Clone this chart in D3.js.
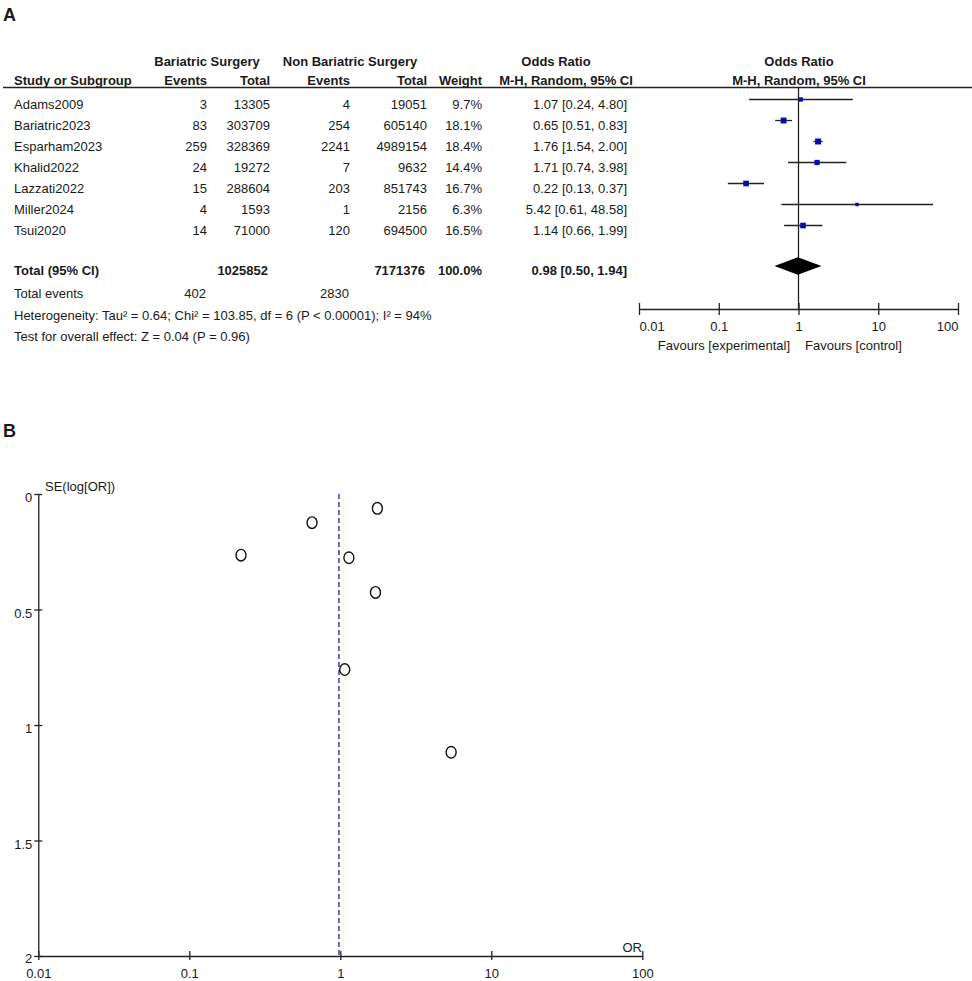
<!DOCTYPE html>
<html>
<head>
<meta charset="utf-8">
<script src="https://cdn.jsdelivr.net/npm/d3@7"></script>
<style>
  body { margin: 0; background: #fff; }
  svg text { font-family: "Liberation Sans", Arial, sans-serif; fill: #1a1a1a; }
</style>
</head>
<body>
<div id="chart"></div>
<script>
// study level data
var studies = ["Adams2009", "Bariatric2023", "Esparham2023", "Khalid2022", "Lazzati2022", "Miller2024", "Tsui2020"];
var events1 = [3, 83, 259, 24, 15, 4, 14];
var total1 = [13305, 303709, 328369, 19272, 288604, 1593, 71000];
var events2 = [4, 254, 2241, 7, 203, 1, 120];
var total2 = [19051, 605140, 4989154, 9632, 851743, 2156, 694500];
var weights = [9.7, 18.1, 18.4, 14.4, 16.7, 6.3, 16.5];
var oddsRatio = [1.07, 0.65, 1.76, 1.71, 0.22, 5.42, 1.14];
var ciLow = [0.24, 0.51, 1.54, 0.74, 0.13, 0.61, 0.66];
var ciHigh = [4.80, 0.83, 2.00, 3.98, 0.37, 48.58, 1.99];
// funnel plot y values (SE of log OR)
var seLogOR = [0.76, 0.124, 0.062, 0.426, 0.265, 1.118, 0.276];

var pooled = {or: 0.98, lo: 0.50, hi: 1.94};
var totals = {t1: 1025852, t2: 7171376, e1: 402, e2: 2830};
var orTicks = [0.01, 0.1, 1, 10, 100];
var seTicks = [0, 0.5, 1, 1.5, 2];

var svg = d3.select("#chart").append("svg")
  .attr("width", 972)
  .attr("height", 981);

function txt(x, y, s, anchor, bold, size) {
  return svg.append("text")
    .attr("x", x).attr("y", y)
    .attr("text-anchor", anchor || "start")
    .style("font-size", (size || 13) + "px")
    .style("font-weight", bold ? "bold" : "normal")
    .text(s);
}

/* ---------- panel A : forest plot ---------- */
txt(3, 21, "A", "start", true, 18);

txt(207, 66, "Bariatric Surgery", "middle", true);
txt(350, 66, "Non Bariatric Surgery", "middle", true);
txt(556, 66, "Odds Ratio", "middle", true);
txt(799, 66, "Odds Ratio", "middle", true);

txt(14, 85, "Study or Subgroup", "start", true);
txt(207, 85, "Events", "end", true);
txt(270, 85, "Total", "end", true);
txt(350, 85, "Events", "end", true);
txt(427, 85, "Total", "end", true);
txt(482, 85, "Weight", "end", true);
txt(566, 85, "M-H, Random, 95% CI", "middle", true);
txt(799, 85, "M-H, Random, 95% CI", "middle", true);

svg.append("line")
  .attr("x1", 3).attr("x2", 972).attr("y1", 87.5).attr("y2", 87.5)
  .attr("stroke", "#222").attr("stroke-width", 1.3);

var rowY = d3.scaleLinear().domain([0, 6]).range([108.5, 234.5]);
var fx = d3.scaleLog().domain([0.01, 100]).range([639, 958]);
var boxSize = d3.scaleSqrt().domain([0, 20]).range([0, 6.2]);

studies.forEach(function(s, i) {
  var y = rowY(i);
  txt(14, y, s);
  txt(207, y, events1[i], "end");
  txt(270, y, total1[i], "end");
  txt(350, y, events2[i], "end");
  txt(427, y, total2[i], "end");
  txt(482, y, weights[i].toFixed(1) + "%", "end");
  txt(627, y, oddsRatio[i].toFixed(2) + " [" + ciLow[i].toFixed(2) + ", " + ciHigh[i].toFixed(2) + "]", "end");
});

var forest = svg.append("g");

forest.append("line")
  .attr("x1", fx(1)).attr("x2", fx(1))
  .attr("y1", 87.5).attr("y2", 309)
  .attr("stroke", "#222").attr("stroke-width", 1.3);

forest.selectAll(".ci")
  .data(studies)
  .enter().append("line")
  .attr("class", "ci")
  .attr("x1", (d, i) => fx(ciLow[i]))
  .attr("x2", (d, i) => fx(ciHigh[i]))
  .attr("y1", (d, i) => rowY(i) - 9)
  .attr("y2", (d, i) => rowY(i) - 9)
  .attr("stroke", "#222").attr("stroke-width", 1.3);

forest.selectAll(".box")
  .data(studies)
  .enter().append("rect")
  .attr("class", "box")
  .attr("x", (d, i) => fx(oddsRatio[i]) - boxSize(weights[i]) / 2)
  .attr("y", (d, i) => rowY(i) - 9 - boxSize(weights[i]) / 2)
  .attr("width", (d, i) => boxSize(weights[i]))
  .attr("height", (d, i) => boxSize(weights[i]))
  .attr("fill", "#0c0caa");

// total row
var totY = 275;
txt(14, totY, "Total (95% CI)", "start", true);
txt(268, totY, totals.t1, "end", true);
txt(425, totY, totals.t2, "end", true);
txt(482, totY, "100.0%", "end", true);
txt(627, totY, pooled.or.toFixed(2) + " [" + pooled.lo.toFixed(2) + ", " + pooled.hi.toFixed(2) + "]", "end", true);

var dy = totY - 9;
forest.append("path")
  .attr("d", "M" + fx(pooled.lo) + "," + dy +
             "L" + fx(pooled.or) + "," + (dy - 8.7) +
             "L" + fx(pooled.hi) + "," + dy +
             "L" + fx(pooled.or) + "," + (dy + 8.7) + "Z")
  .attr("fill", "#000");

txt(14, 298, "Total events");
txt(206, 298, totals.e1, "end");
txt(349, 298, totals.e2, "end");
txt(14, 319.5, "Heterogeneity: Tau\u00b2 = 0.64; Chi\u00b2 = 103.85, df = 6 (P < 0.00001); I\u00b2 = 94%");
txt(14, 340.5, "Test for overall effect: Z = 0.04 (P = 0.96)");

// forest axis
var fAxis = forest.append("g")
  .attr("transform", "translate(0,309)")
  .call(d3.axisBottom(fx).tickValues(orTicks).tickFormat(d3.format("~g")).tickSizeOuter(0));
fAxis.select(".domain").attr("stroke", "#222").attr("stroke-width", 1.3);
fAxis.selectAll(".tick line").attr("y1", -6).attr("y2", 6).attr("stroke", "#222").attr("stroke-width", 1.3);
fAxis.selectAll(".tick text")
  .attr("y", 22).attr("dy", 0)
  .style("font-size", "13px")
  .style("font-family", '"Liberation Sans", Arial, sans-serif')
  .attr("fill", "#1a1a1a")
  .attr("text-anchor", d => d === 0.01 ? "start" : d === 100 ? "end" : "middle");

txt(790, 349.5, "Favours [experimental]", "end");
txt(805, 349.5, "Favours [control]", "start");

/* ---------- panel B : funnel plot ---------- */
txt(3, 437, "B", "start", true, 18);

var gx = d3.scaleLog().domain([0.01, 100]).range([38.3, 642.3]);
var gy = d3.scaleLinear().domain([0, 2]).range([494, 956]);
var funnel = svg.append("g");

var yAx = funnel.append("g")
  .attr("transform", "translate(38.3,0)")
  .call(d3.axisLeft(gy).tickValues(seTicks).tickFormat(d3.format("~g")).tickSizeOuter(0));
yAx.select(".domain").attr("stroke", "#222").attr("stroke-width", 1.3);
yAx.selectAll(".tick line").attr("x1", -4).attr("x2", 4).attr("stroke", "#222").attr("stroke-width", 1.3);
yAx.selectAll(".tick text")
  .attr("x", -6).attr("dy", d => d === 2 ? "0.5em" : "0.58em")
  .style("font-size", "13px")
  .style("font-family", '"Liberation Sans", Arial, sans-serif')
  .attr("fill", "#1a1a1a");

var xAx = funnel.append("g")
  .attr("transform", "translate(0,956)")
  .call(d3.axisBottom(gx).tickValues(orTicks).tickFormat(d3.format("~g")).tickSizeOuter(0));
xAx.select(".domain").attr("stroke", "#222").attr("stroke-width", 1.3);
xAx.selectAll(".tick line").attr("y1", -5).attr("y2", 4).attr("stroke", "#222").attr("stroke-width", 1.3);
xAx.selectAll(".tick text")
  .attr("y", 22).attr("dy", 0)
  .style("font-size", "13px")
  .style("font-family", '"Liberation Sans", Arial, sans-serif')
  .attr("fill", "#1a1a1a");

txt(45, 491, "SE(log[OR])");
txt(642, 952, "OR", "end");

funnel.append("line")
  .attr("x1", gx(pooled.or)).attr("x2", gx(pooled.or))
  .attr("y1", gy(0)).attr("y2", gy(2))
  .attr("stroke", "#3a3aa8").attr("stroke-width", 1.5)
  .attr("stroke-dasharray", "5,3");

funnel.selectAll(".pt")
  .data(studies)
  .enter().append("ellipse")
  .attr("class", "pt")
  .attr("cx", (d, i) => gx(oddsRatio[i]))
  .attr("cy", (d, i) => gy(seLogOR[i]))
  .attr("rx", 5)
  .attr("ry", 5.8)
  .attr("fill", "none")
  .attr("stroke", "#111")
  .attr("stroke-width", 1.4);
</script>
</body>
</html>
